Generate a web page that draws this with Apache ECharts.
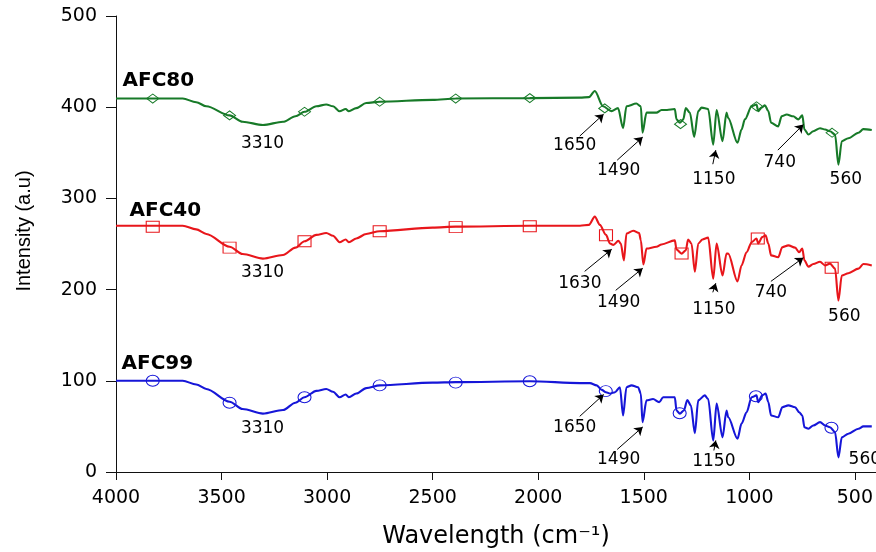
<!DOCTYPE html>
<html>
<head>
<meta charset="utf-8">
<title>FTIR AFC</title>
<script src="https://cdn.jsdelivr.net/npm/echarts@6/dist/echarts.min.js"></script>
<style>
  html, body { margin: 0; padding: 0; background: #fff; }
  #chart { width: 876px; height: 552px; }
</style>
</head>
<body>
<div id="chart"></div>
<script>
// spectra: [wavenumber, intensity]
const afc80 = [[4000,409.5],[3826,409.5],[3684,409.5],[3620,405.5],[3572,401],[3462,391],[3400,384],[3304,380.5],[3209,384],[3150,390],[3107,395],[3051,401],[3004,403],[2972,401],[2941,395.5],[2912,398],[2897,395.5],[2862,399],[2815,404.6],[2751,406],[2500,408],[2391,409.5],[2040,410],[1802,410.5],[1760,411],[1732,417.7],[1693,401],[1653,395.7],[1622,399],[1598,377],[1582,401],[1535,404],[1514,401],[1506,372],[1487,394],[1440,394],[1416,397],[1390,397],[1353,398],[1345,386.6],[1329,383],[1313,386.6],[1301,399],[1282,394],[1261,367.5],[1242,395.7],[1226,399.5],[1195,398],[1171,359],[1155,397],[1127,362.7],[1108,394],[1100,388],[1056,361],[1037,375.5],[1021,386.6],[989,401],[966,403],[958,395.7],[942,399.5],[926,402],[910,395.7],[897,383],[863,379],[847,390],[823,392],[792,390],[768,386.6],[749,391],[739,375.5],[720,370],[697,373.7],[665,377],[641,375.5],[618,373.7],[594,370],[578,337],[562,362.7],[531,366],[483,372],[460,376],[420,375]];
const afc40 = [[4000,270],[3826,270],[3684,270],[3620,266],[3572,261],[3462,247],[3400,239],[3304,234],[3209,238],[3150,246],[3107,253],[3051,260],[3004,262],[2972,259],[2941,252],[2912,255],[2897,252],[2862,256],[2815,261],[2751,264],[2500,268],[2391,269],[2040,270],[1802,270],[1760,271],[1732,280],[1708,271],[1679,260],[1660,250.5],[1644,249],[1620,253.5],[1609,250.5],[1594,232],[1582,261.5],[1550,264.5],[1522,262],[1514,254],[1502,227.5],[1487,245],[1440,247],[1416,249.5],[1353,254],[1345,244],[1321,239.5],[1301,243],[1290,255],[1274,250.5],[1258,219.5],[1242,250.5],[1222,255],[1195,257],[1171,212],[1155,250.5],[1127,215.5],[1108,239.5],[1100,239.5],[1056,209],[1037,226.5],[1013,241],[989,252],[966,256],[958,250.5],[939,257.5],[923,259.5],[910,250.5],[897,237.5],[863,235.5],[844,246.5],[815,248.5],[783,246],[764,241],[749,245],[739,232],[720,225],[697,228],[665,230.5],[641,226.5],[618,228.5],[594,223],[578,188],[562,215.5],[531,218],[483,223],[460,228],[420,226.5]];
const afc99 = [[4000,100],[3826,100],[3684,100],[3620,96],[3572,91],[3462,77],[3400,69],[3304,64],[3209,68],[3150,76],[3107,82],[3051,89],[3004,91],[2972,88],[2941,82],[2912,85],[2897,82],[2862,86],[2815,92],[2751,95],[2500,98],[2391,98.5],[2040,99.5],[1802,97.5],[1755,97.5],[1723,95],[1699,90],[1679,87.5],[1660,86],[1636,87.5],[1613,93],[1598,62],[1582,93],[1558,95],[1527,93],[1514,86],[1506,54.7],[1487,78.5],[1456,80],[1427,76.6],[1408,82],[1353,82],[1345,67.5],[1329,64],[1310,67.5],[1294,79],[1277,73],[1258,42.6],[1242,78.5],[1211,84],[1195,80],[1171,34.5],[1155,75],[1127,38],[1108,67.5],[1100,60],[1056,36.5],[1037,53],[1013,65.5],[989,82],[966,84],[958,76.6],[939,84],[923,86],[910,76.6],[897,62],[863,60],[844,71],[815,73],[783,71],[764,65.5],[749,62],[739,49],[720,47.5],[697,51],[665,54.7],[641,51],[618,49],[594,43.7],[578,16],[562,38],[531,42],[483,47.5],[460,50],[420,50]];

// hollow markers sitting on each curve
const afc80Marks = [[3826,409.5],[3462,391],[3107,395],[2751,406],[2391,409.5],[2040,410],[1685,398.7],[1326,381.4],[966,401],[608,372]];
const afc40Marks = [[3826,269],[3462,246],[3107,253],[2751,264],[2391,268.5],[2040,269.5],[1679,259.6],[1321,239.5],[960,256],[610,224]];
const afc99Marks = [[3826,100],[3462,76],[3107,82],[2751,95],[2391,98],[2040,99.5],[1680,88.7],[1330,64.5],[969,83],[611,48.5]];

// peak labels [text, x, y] and arrows [x1, y1, x2, y2]
const peakLabels = [
  ['3310',3306,360.6],['1650',1827,358.4],['1490',1619,331],['1150',1168,321],['740',856,339.7],['560',543,321],
  ['3310',3306,219],['1630',1803,206.9],['1490',1619,186],['1150',1168,178.4],['740',898,197],['560',550,170],
  ['3310',3306,47.8],['1650',1827,48.8],['1490',1619,13.7],['1150',1168,11.5],['560',453,13.7]
];
const peakArrows = [
  [1803.5,368.3,1690,392.4],[1626,341.9,1505,367.2],[1173,337.5,1159,352.9],[865,352.9,744,381],
  [1780,220,1652,244.2],[1633,199.2,1505,223.4],[1173,197,1159,207],[898,209,744,235],
  [1803.5,61,1690,85],[1626,24.7,1505,49.4],[1168,23.6,1159,34.6]
];
const sampleNames = [['AFC80',3969,428.6],['AFC40',3936,286],['AFC99',3974,119]];

const colors = { afc80: '#177a28', afc40: '#e8161b', afc99: '#1616d8' };

const chart = echarts.init(document.getElementById('chart'));

function curve(name, data, color) {
  return {
    name: name, type: 'line', data: data, showSymbol: false,
    smooth: 0.3, smoothMonotone: 'x',
    lineStyle: { color: color, width: 2.1 }, z: 2
  };
}
function marks(data, color, symbol, size) {
  return {
    type: 'scatter', data: data, symbol: symbol, symbolSize: size,
    itemStyle: { color: 'rgba(0,0,0,0)', borderColor: color, borderWidth: 1, opacity: 1 }, z: 3
  };
}

const option = {
  animation: false,
  grid: { left: 116, right: 0, top: 16, bottom: 80, outerBoundsMode: 'none', containLabel: false },
  xAxis: {
    type: 'value', inverse: true, min: 400, max: 4000, splitNumber: 7,
    name: 'Wavelength (cm⁻¹)', nameLocation: 'middle', nameGap: 53,
    nameTextStyle: { fontFamily: 'DejaVu Sans', fontSize: 24, color: '#000' },
    axisLine: { lineStyle: { color: '#111', width: 1 } },
    axisTick: { inside: false, length: 8, lineStyle: { color: '#111' } },
    axisLabel: { showMinLabel: false, margin: 17, fontFamily: 'DejaVu Sans', fontSize: 19, color: '#000',
      formatter: v => String(v) },
    splitLine: { show: false }
  },
  yAxis: {
    type: 'value', min: 0, max: 500, interval: 100,
    name: 'Intensity (a.u)', nameLocation: 'middle', nameGap: 82,
    nameTextStyle: { fontFamily: 'Liberation Sans', fontSize: 20, color: '#000', padding: [0, 0, 0, 26] },
    axisLine: { show: true, lineStyle: { color: '#111', width: 1 } },
    axisTick: { show: true, length: 10, lineStyle: { color: '#111' } },
    axisLabel: { margin: 19, fontFamily: 'DejaVu Sans', fontSize: 19, color: '#000' },
    splitLine: { show: false }
  },
  series: [
    curve('AFC80', afc80, colors.afc80),
    curve('AFC40', afc40, colors.afc40),
    curve('AFC99', afc99, colors.afc99),
    marks(afc80Marks, colors.afc80, 'diamond', [12, 9]),
    marks(afc40Marks, colors.afc40, 'rect', [13, 11]),
    marks(afc99Marks, colors.afc99, 'circle', [13, 11]),
    {
      type: 'lines', coordinateSystem: 'cartesian2d', z: 4,
      symbol: ['none', 'arrow'], symbolSize: 8,
      lineStyle: { color: '#000', width: 1, opacity: 1 },
      data: peakArrows.map(a => ({ coords: [[a[0], a[1]], [a[2], a[3]]] }))
    },
    {
      type: 'scatter', symbolSize: 0, z: 5,
      itemStyle: { opacity: 1 },
      data: peakLabels.map(p => ({ name: p[0], value: [p[1], p[2]] })),
      label: { show: true, position: 'inside', formatter: '{b}', fontFamily: 'DejaVu Sans', fontSize: 17, color: '#000' }
    },
    {
      type: 'scatter', symbolSize: 0, z: 5,
      itemStyle: { opacity: 1 },
      data: sampleNames.map(p => ({ name: p[0], value: [p[1], p[2]] })),
      label: { show: true, position: 'right', distance: 0, formatter: '{b}', fontFamily: 'DejaVu Sans', fontWeight: 'bold', fontSize: 20, color: '#000' }
    }
  ]
};

chart.setOption(option);
</script>
</body>
</html>
